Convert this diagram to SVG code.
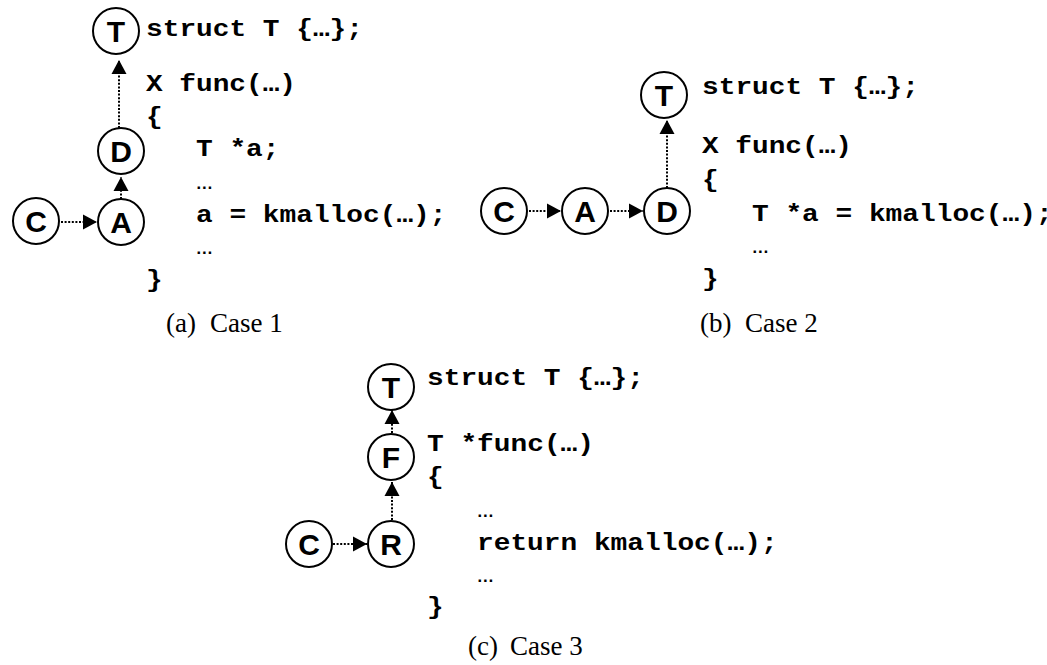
<svg xmlns="http://www.w3.org/2000/svg" width="1047" height="665" viewBox="0 0 1047 665">
  <defs>
    <marker id="arrow" viewBox="0 0 14 16" refX="14" refY="8" markerWidth="14" markerHeight="16" markerUnits="userSpaceOnUse" orient="auto">
      <path d="M0,0.5 L14,8 L0,15.5 z" fill="#000"/>
    </marker>
  </defs>
  <style>
    .node circle { fill: #fff; stroke: #000; stroke-width: 2; }
    .node text { font-family: "Liberation Sans", Arial, sans-serif; font-weight: bold; font-size: 30px; text-anchor: middle; fill: #000; }
    .edge { stroke: #000; stroke-width: 2; stroke-dasharray: 2 1.6; fill: none; marker-end: url(#arrow); }
    .code { font-family: "Liberation Mono", "Courier New", monospace; font-weight: bold; font-size: 23px; fill: #000; }
    .code .dots { font-weight: normal; }
    .cap { font-family: "Liberation Serif", "Times New Roman", serif; font-size: 27px; fill: #000; }
  </style>

  <rect width="1047" height="665" fill="#fff"/>

  <!-- connectors -->
  <g id="connectors">
    <!-- case 1 -->
    <line class="edge" x1="119" y1="128" x2="119" y2="60"/>
    <line class="edge" x1="121" y1="199" x2="121" y2="177"/>
    <line class="edge" x1="61" y1="222" x2="97" y2="222"/>
    <!-- case 2 -->
    <line class="edge" x1="667" y1="188" x2="667" y2="120"/>
    <line class="edge" x1="529" y1="211" x2="561" y2="211"/>
    <line class="edge" x1="610" y1="211" x2="643" y2="211"/>
    <!-- case 3 -->
    <line class="edge" x1="392" y1="433" x2="392" y2="410"/>
    <line class="edge" x1="392" y1="520" x2="392" y2="482"/>
    <line class="edge" x1="333" y1="544" x2="367" y2="544"/>
  </g>

  <!-- case 1 nodes -->
  <g id="a-T" class="node"><circle cx="116" cy="31" r="23"/><text x="116" y="42">T</text></g>
  <g id="a-D" class="node"><circle cx="121" cy="151" r="23"/><text x="121" y="162">D</text></g>
  <g id="a-A" class="node"><circle cx="121" cy="222" r="23"/><text x="121" y="233">A</text></g>
  <g id="a-C" class="node"><circle cx="36" cy="221" r="23"/><text x="36" y="232">C</text></g>

  <!-- case 2 nodes -->
  <g id="b-T" class="node"><circle cx="664" cy="95" r="23"/><text x="664" y="106">T</text></g>
  <g id="b-D" class="node"><circle cx="667" cy="211" r="23"/><text x="667" y="222">D</text></g>
  <g id="b-A" class="node"><circle cx="585" cy="211" r="23"/><text x="585" y="222">A</text></g>
  <g id="b-C" class="node"><circle cx="504" cy="211" r="23"/><text x="504" y="222">C</text></g>

  <!-- case 3 nodes -->
  <g id="c-T" class="node"><circle cx="391" cy="387" r="23"/><text x="391" y="398">T</text></g>
  <g id="c-F" class="node"><circle cx="391" cy="457" r="23"/><text x="391" y="468">F</text></g>
  <g id="c-R" class="node"><circle cx="391" cy="544" r="23"/><text x="391" y="555">R</text></g>
  <g id="c-C" class="node"><circle cx="309" cy="544" r="23"/><text x="309" y="555">C</text></g>

  <!-- case 1 code -->
  <g id="code-a" class="code">
    <text x="146" y="36" textLength="217" lengthAdjust="spacingAndGlyphs">struct T {…};</text>
    <text x="146" y="91" textLength="150" lengthAdjust="spacingAndGlyphs">X func(…)</text>
    <text x="146" y="124" textLength="16.7" lengthAdjust="spacingAndGlyphs">{</text>
    <text x="196" y="156" textLength="83.5" lengthAdjust="spacingAndGlyphs">T *a;</text>
    <text class="dots" x="196" y="189" textLength="16.7" lengthAdjust="spacingAndGlyphs">…</text>
    <text x="196" y="222" textLength="250.5" lengthAdjust="spacingAndGlyphs">a = kmalloc(…);</text>
    <text class="dots" x="196" y="254" textLength="16.7" lengthAdjust="spacingAndGlyphs">…</text>
    <text x="146" y="287" textLength="16.7" lengthAdjust="spacingAndGlyphs">}</text>
  </g>

  <!-- case 2 code -->
  <g id="code-b" class="code">
    <text x="702" y="94" textLength="217" lengthAdjust="spacingAndGlyphs">struct T {…};</text>
    <text x="702" y="153" textLength="150" lengthAdjust="spacingAndGlyphs">X func(…)</text>
    <text x="702" y="187" textLength="16.7" lengthAdjust="spacingAndGlyphs">{</text>
    <text x="752" y="221" textLength="300.6" lengthAdjust="spacingAndGlyphs">T *a = kmalloc(…);</text>
    <text class="dots" x="752" y="253" textLength="16.7" lengthAdjust="spacingAndGlyphs">…</text>
    <text x="702" y="286" textLength="16.7" lengthAdjust="spacingAndGlyphs">}</text>
  </g>

  <!-- case 3 code -->
  <g id="code-c" class="code">
    <text x="427" y="385" textLength="217" lengthAdjust="spacingAndGlyphs">struct T {…};</text>
    <text x="427" y="451" textLength="167" lengthAdjust="spacingAndGlyphs">T *func(…)</text>
    <text x="427" y="484" textLength="16.7" lengthAdjust="spacingAndGlyphs">{</text>
    <text class="dots" x="477" y="517" textLength="16.7" lengthAdjust="spacingAndGlyphs">…</text>
    <text x="477" y="550" textLength="300.6" lengthAdjust="spacingAndGlyphs">return kmalloc(…);</text>
    <text class="dots" x="477" y="582" textLength="16.7" lengthAdjust="spacingAndGlyphs">…</text>
    <text x="427" y="614" textLength="16.7" lengthAdjust="spacingAndGlyphs">}</text>
  </g>

  <!-- captions -->
  <g id="captions" class="cap">
    <text y="332"><tspan x="166">(a)</tspan><tspan x="210">Case 1</tspan></text>
    <text y="332"><tspan x="700">(b)</tspan><tspan x="745">Case 2</tspan></text>
    <text y="655"><tspan x="468">(c)</tspan><tspan x="510">Case 3</tspan></text>
  </g>
</svg>
